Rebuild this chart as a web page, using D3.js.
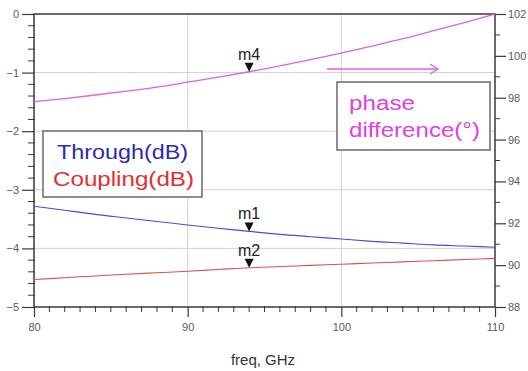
<!DOCTYPE html>
<html>
<head>
<meta charset="utf-8">
<script src="https://cdn.jsdelivr.net/npm/d3@7"></script>
<style>
  html, body { margin: 0; padding: 0; background: #fff; }
  svg { display: block; font-family: "Liberation Sans", Arial, sans-serif; }
</style>
</head>
<body>
<svg id="chart" width="528" height="371"></svg>
<script>
// Frequency sweep (GHz)
const freq = [80, 82, 84, 86, 88, 90, 92, 94, 96, 98, 100, 102, 104, 106, 108, 110];
// S-parameters in dB (left axis)
const throughDb = [-3.28, -3.35, -3.42, -3.48, -3.54, -3.60, -3.655, -3.71, -3.76, -3.80, -3.84, -3.88, -3.91, -3.94, -3.96, -3.98];
const couplingDb = [-4.53, -4.50, -4.47, -4.44, -4.415, -4.39, -4.36, -4.33, -4.31, -4.29, -4.27, -4.25, -4.23, -4.21, -4.19, -4.17];
// Phase difference in degrees (right axis)
const phaseDeg = [97.81, 97.96, 98.13, 98.31, 98.51, 98.74, 98.98, 99.24, 99.52, 99.82, 100.13, 100.47, 100.82, 101.20, 101.59, 102.0];

// Axis ticks
const xTicks = [80, 90, 100, 110];
const yLeftTicks = [0, -1, -2, -3, -4, -5];
const yRightTicks = [102, 100, 98, 96, 94, 92, 90, 88];

// Markers
const markers = [
  { name: "m4", f: 94, v: 99.24, axis: "right" },
  { name: "m1", f: 94, v: -3.71, axis: "left" },
  { name: "m2", f: 94, v: -4.33, axis: "left" }
];

const svg = d3.select("#chart");
const L = 34, R = 495, T = 14, B = 307;

const x = d3.scaleLinear().domain([80, 110]).range([L, R]);
const yL = d3.scaleLinear().domain([-5, 0]).range([B, T]);
const yR = d3.scaleLinear().domain([88, 102]).range([B, T]);

const axisColor = "#3a3a3a";
const labelColor = "#5a5a5a";

// Grid
const grid = svg.append("g").attr("stroke", "#d0d0d0").attr("stroke-width", 1);
grid.selectAll("line.gx").data([90, 100]).join("line")
  .attr("x1", d => x(d)).attr("x2", d => x(d)).attr("y1", T).attr("y2", B);
grid.selectAll("line.gy").data([-1, -2, -3, -4]).join("line")
  .attr("x1", L).attr("x2", R).attr("y1", d => yL(d)).attr("y2", d => yL(d));

// Minor ticks
const minor = svg.append("g").attr("stroke", axisColor).attr("stroke-width", 1);
minor.selectAll("line.mx").data(d3.range(80, 111, 1).filter(d => d % 10 !== 0)).join("line")
  .attr("x1", d => x(d)).attr("x2", d => x(d)).attr("y1", B - 1).attr("y2", B + 5);
minor.selectAll("line.ml").data(d3.range(-50, 1, 2).map(d => d / 10).filter(d => !Number.isInteger(d))).join("line")
  .attr("x1", L - 6).attr("x2", L + 1).attr("y1", d => yL(d)).attr("y2", d => yL(d));
minor.selectAll("line.mr").data(d3.range(89, 102, 2)).join("line")
  .attr("x1", R).attr("x2", R + 5).attr("y1", d => yR(d)).attr("y2", d => yR(d));

// Axes
function styleAxis(g) {
  g.select(".domain").remove();
  g.selectAll(".tick line").attr("stroke", axisColor).attr("stroke-width", 1.2);
  g.selectAll(".tick text").attr("fill", labelColor).attr("font-size", 11)
    .attr("font-family", "Liberation Sans, Arial, sans-serif");
}
svg.append("g").attr("transform", `translate(0,${B})`)
  .call(d3.axisBottom(x).tickValues(xTicks).tickSize(10).tickPadding(6))
  .call(styleAxis);
svg.append("g").attr("transform", `translate(${L},0)`)
  .call(d3.axisLeft(yL).tickValues(yLeftTicks).tickSize(12).tickPadding(3).tickFormat(d3.format("d")))
  .call(styleAxis);
svg.append("g").attr("transform", `translate(${R},0)`)
  .call(d3.axisRight(yR).tickValues(yRightTicks).tickSize(11).tickPadding(2))
  .call(styleAxis);

// Frame
svg.append("rect").attr("x", L).attr("y", T).attr("width", R - L).attr("height", B - T)
  .attr("fill", "none").attr("stroke", axisColor).attr("stroke-width", 1.5);

// Traces
const rows = freq.map((f, i) => ({ f, t: throughDb[i], c: couplingDb[i], p: phaseDeg[i] }));
svg.append("path").datum(rows)
  .attr("fill", "none").attr("stroke", "#4a4ad6").attr("stroke-width", 1.1)
  .attr("d", d3.line().x(d => x(d.f)).y(d => yL(d.t)).curve(d3.curveMonotoneX));
svg.append("path").datum(rows)
  .attr("fill", "none").attr("stroke", "#e05050").attr("stroke-width", 1.1)
  .attr("d", d3.line().x(d => x(d.f)).y(d => yL(d.c)).curve(d3.curveMonotoneX));
svg.append("path").datum(rows)
  .attr("fill", "none").attr("stroke", "#e060e0").attr("stroke-width", 1.3)
  .attr("d", d3.line().x(d => x(d.f)).y(d => yR(d.p)).curve(d3.curveMonotoneX));

// Markers
const mk = svg.append("g");
markers.forEach(m => {
  const px = x(m.f);
  const py = m.axis === "left" ? yL(m.v) : yR(m.v);
  mk.append("path")
    .attr("d", `M${px - 4.5},${py - 9} L${px + 4.5},${py - 9} L${px},${py} Z`)
    .attr("fill", "#111");
  mk.append("text").attr("x", px).attr("y", py - 12)
    .attr("text-anchor", "middle").attr("font-size", 16).attr("fill", "#222")
    .text(m.name);
});

// Legend box for dB traces
svg.append("rect").attr("x", 43).attr("y", 131).attr("width", 159).attr("height", 66)
  .attr("fill", "#fff").attr("stroke", "#6a6a6a").attr("stroke-width", 1.5);
svg.append("text").attr("x", 57).attr("y", 159)
  .attr("font-size", 20).attr("textLength", 131).attr("lengthAdjust", "spacingAndGlyphs")
  .attr("fill", "#2a2ab8").text("Through(dB)");
svg.append("text").attr("x", 53).attr("y", 186)
  .attr("font-size", 20).attr("textLength", 141).attr("lengthAdjust", "spacingAndGlyphs")
  .attr("fill", "#e03030").text("Coupling(dB)");

// Phase label box and arrow toward right axis
svg.append("rect").attr("x", 337).attr("y", 82).attr("width", 153).attr("height", 68)
  .attr("fill", "#fff").attr("stroke", "#6a6a6a").attr("stroke-width", 1.5);
svg.append("text").attr("x", 349).attr("y", 110)
  .attr("font-size", 20).attr("textLength", 66).attr("lengthAdjust", "spacingAndGlyphs")
  .attr("fill", "#e040e0").text("phase");
svg.append("text").attr("x", 349).attr("y", 137)
  .attr("font-size", 20).attr("textLength", 131).attr("lengthAdjust", "spacingAndGlyphs")
  .attr("fill", "#e040e0").text("difference(°)");
svg.append("line").attr("x1", 327).attr("x2", 438).attr("y1", 69).attr("y2", 69)
  .attr("stroke", "#e060e0").attr("stroke-width", 1.3);
svg.append("path").attr("d", "M430,64 L438,69 L430,74")
  .attr("fill", "none").attr("stroke", "#e060e0").attr("stroke-width", 1.3);

// X-axis title
svg.append("text").attr("x", 263).attr("y", 365).attr("text-anchor", "middle")
  .attr("font-size", 15).attr("fill", "#333").text("freq, GHz");
</script>
</body>
</html>
